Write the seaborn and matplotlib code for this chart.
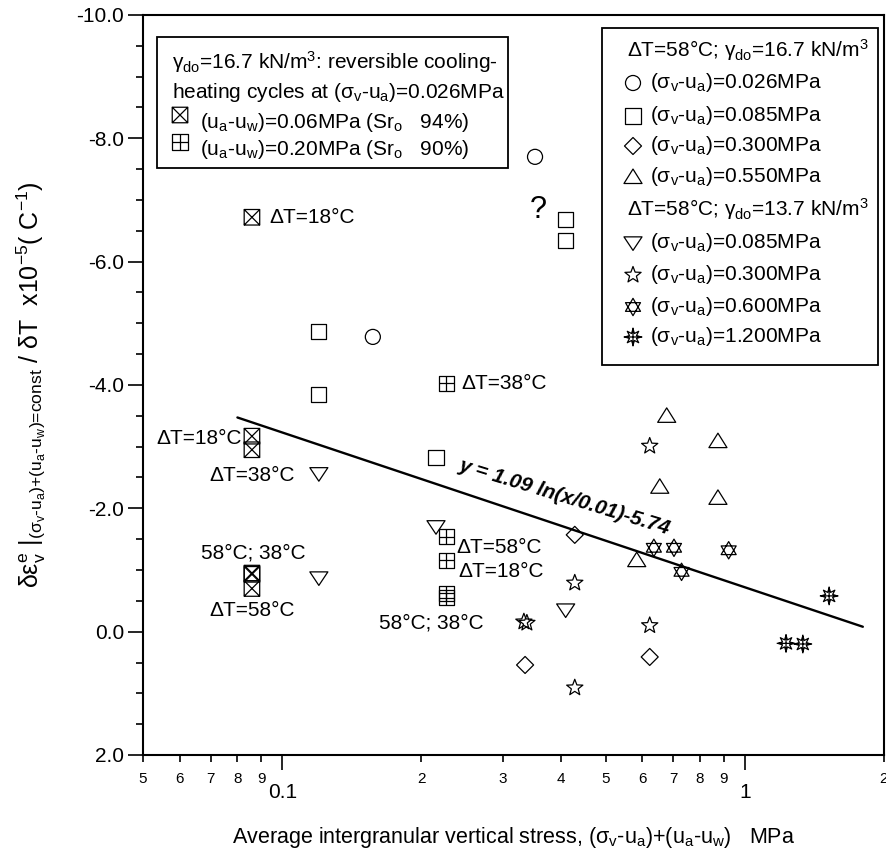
import numpy as np
import matplotlib
matplotlib.use("Agg")
import matplotlib.pyplot as plt
from matplotlib.path import Path
from matplotlib.patches import Rectangle
from matplotlib.ticker import FixedLocator, FixedFormatter, MultipleLocator, FormatStrFormatter
import seaborn as sns

sns.set_theme(style="ticks")
plt.rcParams["font.family"] = ["Liberation Sans", "DejaVu Sans"]
plt.rcParams["mathtext.fontset"] = "custom"
plt.rcParams["mathtext.rm"] = "Liberation Sans"
plt.rcParams["mathtext.it"] = "Liberation Sans"
plt.rcParams["mathtext.bf"] = "Liberation Sans:bold"
plt.rcParams["axes.unicode_minus"] = False
for key in ["text.color", "axes.labelcolor", "xtick.color", "ytick.color", "axes.edgecolor"]:
    plt.rcParams[key] = "black"

# ---- data: average intergranular vertical stress (MPa) vs thermal coefficient (x1e-5 1/C)
# dT = 58 C, gamma_do = 16.7 kN/m3
circ_x = [0.157, 0.352]
circ_y = [-4.78, -7.70]
sq_x = [0.120, 0.120, 0.215, 0.410, 0.410]
sq_y = [-4.86, -3.84, -2.83, -6.68, -6.35]
dia_x = [0.335, 0.429, 0.623]
dia_y = [0.54, -1.57, 0.41]
tri_x = [0.584, 0.655, 0.678, 0.875, 0.875]
tri_y = [-1.16, -2.35, -3.50, -3.09, -2.17]
# dT = 58 C, gamma_do = 13.7 kN/m3
tdn_x = [0.120, 0.120, 0.215, 0.410]
tdn_y = [-2.56, -0.87, -1.70, -0.35]
star_x = [0.333, 0.338, 0.429, 0.429, 0.623, 0.623]
star_y = [-0.16, -0.14, -0.79, 0.91, -3.01, -0.10]
hex_x = [0.636, 0.703, 0.730, 0.923]
hex_y = [-1.36, -1.36, -0.97, -1.32]
ast_x = [1.228, 1.335, 1.522]
ast_y = [0.19, 0.20, -0.58]
# reversible cooling-heating cycles at (sv-ua)=0.026 MPa
cyc06_x = [0.086, 0.086, 0.086, 0.086, 0.086, 0.086]
cyc06_y = [-6.72, -3.17, -2.95, -0.95, -0.93, -0.70]
cyc20_x = [0.226, 0.226, 0.226, 0.226, 0.226]
cyc20_y = [-4.03, -1.54, -1.16, -0.62, -0.55]

# fitted trend  y = a ln(x/x0) + b
fit_a, fit_x0, fit_b = 1.09, 0.01, -5.74
fit_range = (0.08, 1.8)

# point annotations: text, x, y, alignment
notes_text = ["ΔT=18°C", "ΔT=18°C", "ΔT=38°C", "58°C; 38°C", "ΔT=58°C",
              "ΔT=38°C", "ΔT=58°C", "ΔT=18°C", "58°C; 38°C"]
notes_x = [0.0940, 0.0818, 0.0859, 0.0868, 0.0862, 0.2443, 0.2384, 0.2406, 0.2105]
notes_y = [-6.72, -3.14, -2.54, -1.28, -0.35, -4.03, -1.37, -0.97, -0.14]
notes_ha = ["left", "right", "center", "center", "center", "left", "left", "left", "center"]

y_ticks_major = 2.0
y_ticks_minor = 0.5
x_major = [0.1, 1.0]
x_major_labels = ["0.1", "1"]
x_minor = [0.05, 0.06, 0.07, 0.08, 0.09, 0.2, 0.3, 0.4, 0.5, 0.6, 0.7, 0.8, 0.9, 2.0]
x_minor_labels = ["5", "6", "7", "8", "9", "2", "3", "4", "5", "6", "7", "8", "9", "2"]


# ---- marker shapes
def closed(verts):
    verts = list(verts) + [verts[0]]
    codes = [Path.MOVETO] + [Path.LINETO] * (len(verts) - 2) + [Path.CLOSEPOLY]
    return Path(verts, codes)


def seg(a, b):
    return Path([a, b], [Path.MOVETO, Path.LINETO])


square = closed([(-1, -1), (1, -1), (1, 1), (-1, 1)])
box_x = Path.make_compound_path(square, seg((-1, -1), (1, 1)), seg((-1, 1), (1, -1)))
box_plus = Path.make_compound_path(square, seg((0, -1), (0, 1)), seg((-1, 0), (1, 0)))
diamond = closed([(0, 1), (1, 0), (0, -1), (-1, 0)])
tri_up = closed([(-1, -0.72), (1, -0.72), (0, 0.88)])
tri_dn = closed([(-1, 0.68), (1, 0.68), (0, -0.82)])
ang5 = np.pi / 2 + np.arange(10) * np.pi / 5
rad5 = np.where(np.arange(10) % 2 == 0, 1.0, 0.42)
star5 = closed(list(zip(rad5 * np.cos(ang5), rad5 * np.sin(ang5))))
s3 = np.sqrt(3) / 2
hexagram = Path.make_compound_path(closed([(0, 1), (-s3, -0.5), (s3, -0.5)]),
                                   closed([(0, -1), (-s3, 0.5), (s3, 0.5)]))
ang8 = np.pi / 2 + np.arange(16) * np.pi / 8
rad8 = np.where(np.arange(16) % 2 == 0, 0.95, 0.45)
asterisk = Path.make_compound_path(closed(list(zip(rad8 * np.cos(ang8), rad8 * np.sin(ang8)))),
                                   seg((0, -1.1), (0, 1.1)), seg((-1.1, 0), (1.1, 0)))

series = [
    (circ_x, circ_y, "o", 117),
    (sq_x, sq_y, "s", 117),
    (dia_x, dia_y, diamond, 150),
    (tri_x, tri_y, tri_up, 169),
    (tdn_x, tdn_y, tri_dn, 169),
    (star_x, star_y, star5, 150),
    (hex_x, hex_y, hexagram, 156),
    (ast_x, ast_y, asterisk, 180),
    (cyc06_x, cyc06_y, box_x, 125),
    (cyc20_x, cyc20_y, box_plus, 117),
]

W, H = 887, 856
fig = plt.figure(figsize=(W / 100, H / 100), dpi=100)
L, R, T, B = 143, 884, 15, 755
ax = fig.add_axes([L / W, (H - B) / H, (R - L) / W, (B - T) / H])

for xs, ys, mk, sz in series:
    sns.scatterplot(x=xs, y=ys, marker=mk, s=sz, facecolor="none",
                    edgecolor="black", linewidth=0.9, ax=ax, zorder=3, legend=False)

fit_x = np.geomspace(fit_range[0], fit_range[1], 60)
fit_y = fit_a * np.log(fit_x / fit_x0) + fit_b
sns.lineplot(x=fit_x, y=fit_y, color="black", linewidth=1.7, ax=ax, legend=False, zorder=2)

ax.set_xscale("log")
ax.set_xlim(0.05, 2.0)
ax.set_ylim(2.0, -10.0)

# axis ticks
ax.yaxis.set_major_locator(MultipleLocator(y_ticks_major))
ax.yaxis.set_minor_locator(MultipleLocator(y_ticks_minor))
ax.yaxis.set_major_formatter(FormatStrFormatter("%.1f"))
ax.xaxis.set_major_locator(FixedLocator(x_major))
ax.xaxis.set_major_formatter(FixedFormatter(x_major_labels))
ax.xaxis.set_minor_locator(FixedLocator(x_minor))
ax.xaxis.set_minor_formatter(FixedFormatter(x_minor_labels))
ax.tick_params(which="both", direction="out", top=False, right=False, color="black", width=1.2)
ax.tick_params(axis="y", which="major", length=10.5, labelsize=15, pad=3)
ax.tick_params(axis="y", which="minor", length=5)
ax.tick_params(axis="x", which="major", length=10.5, labelsize=15, pad=10)
ax.tick_params(axis="x", which="minor", length=5, labelsize=11, pad=7)
for sp in ax.spines.values():
    sp.set_linewidth(1.5)
    sp.set_color("black")

ax.set_xlabel(r"Average intergranular vertical stress, (σ$_v$-u$_a$)+(u$_a$-u$_w$)   MPa",
              fontsize=15.5)
ax.xaxis.set_label_coords(0.5, -0.095)
ax.set_ylabel(r"δε$^{e}_{v}$ |$_{\text{(σ}_{v}\text{-u}_{a}\text{)+(u}_{a}\text{-u}_{w}\text{)=const}}$"
              r" / δT  x10$^{-5}$( C$^{-1}$)", fontsize=18)
ax.yaxis.set_label_coords(-0.128, 0.5)

# point annotations
for txt, x, y, ha in zip(notes_text, notes_x, notes_y, notes_ha):
    ax.text(x, y, txt, ha=ha, va="center", fontsize=15)
ax.text(0.3585, -6.84, "?", ha="center", va="center", fontsize=22)
ax.text(0.408, -2.18, f"y = {fit_a} ln(x/{fit_x0})-{abs(fit_b)}", rotation=-17,
        ha="center", va="center", fontsize=15, fontweight="bold", style="italic")


# ---- key boxes (pixel layout helpers)
def ap(px, py):
    return ((px - L) / (R - L), (B - py) / (B - T))


def box(x0, y0, x1, y1):
    (ax0, ay1), (ax1, ay0) = ap(x0, y0), ap(x1, y1)
    ax.add_patch(Rectangle((ax0, ay0), ax1 - ax0, ay1 - ay0, transform=ax.transAxes,
                           facecolor="white", edgecolor="black", linewidth=1.3, zorder=4))


def key_text(px, py, s):
    ax.text(*ap(px, py), s, transform=ax.transAxes, ha="left", va="center", fontsize=15, zorder=5)


def key_marker(px, py, mk, sz):
    ax.scatter(*ap(px, py), marker=mk, s=sz, facecolor="none", edgecolor="black",
               linewidth=0.9, transform=ax.transAxes, clip_on=False, zorder=5)


# left key
box(157, 37, 508, 168)
key_text(172, 62, r"γ$_{\mathrm{do}}$=16.7 kN/m$^{3}$: reversible cooling-")
key_text(172, 93, r"heating cycles at (σ$_v$-u$_a$)=0.026MPa")
key_marker(180, 115, box_x, 125)
key_text(200, 123, r"(u$_a$-u$_w$)=0.06MPa (Sr$_o$   94%)")
key_marker(180, 142, box_plus, 117)
key_text(200, 150, r"(u$_a$-u$_w$)=0.20MPa (Sr$_o$   90%)")

# right key
box(602, 28, 878, 365)
key_text(627, 50, r"ΔT=58°C; γ$_{\mathrm{do}}$=16.7 kN/m$^{3}$")
key_text(627, 209, r"ΔT=58°C; γ$_{\mathrm{do}}$=13.7 kN/m$^{3}$")
key_rows_y = [83, 116, 146, 177, 243, 275, 307, 337]
key_rows_lab = ["0.026", "0.085", "0.300", "0.550", "0.085", "0.300", "0.600", "1.200"]
key_rows_mk = [series[i] for i in range(8)]
for py, lab, (_, _, mk, sz) in zip(key_rows_y, key_rows_lab, key_rows_mk):
    key_marker(633, py, mk, sz)
    key_text(650, py, r"(σ$_v$-u$_a$)=" + lab + "MPa")

fig.savefig("out.png", dpi=100)
